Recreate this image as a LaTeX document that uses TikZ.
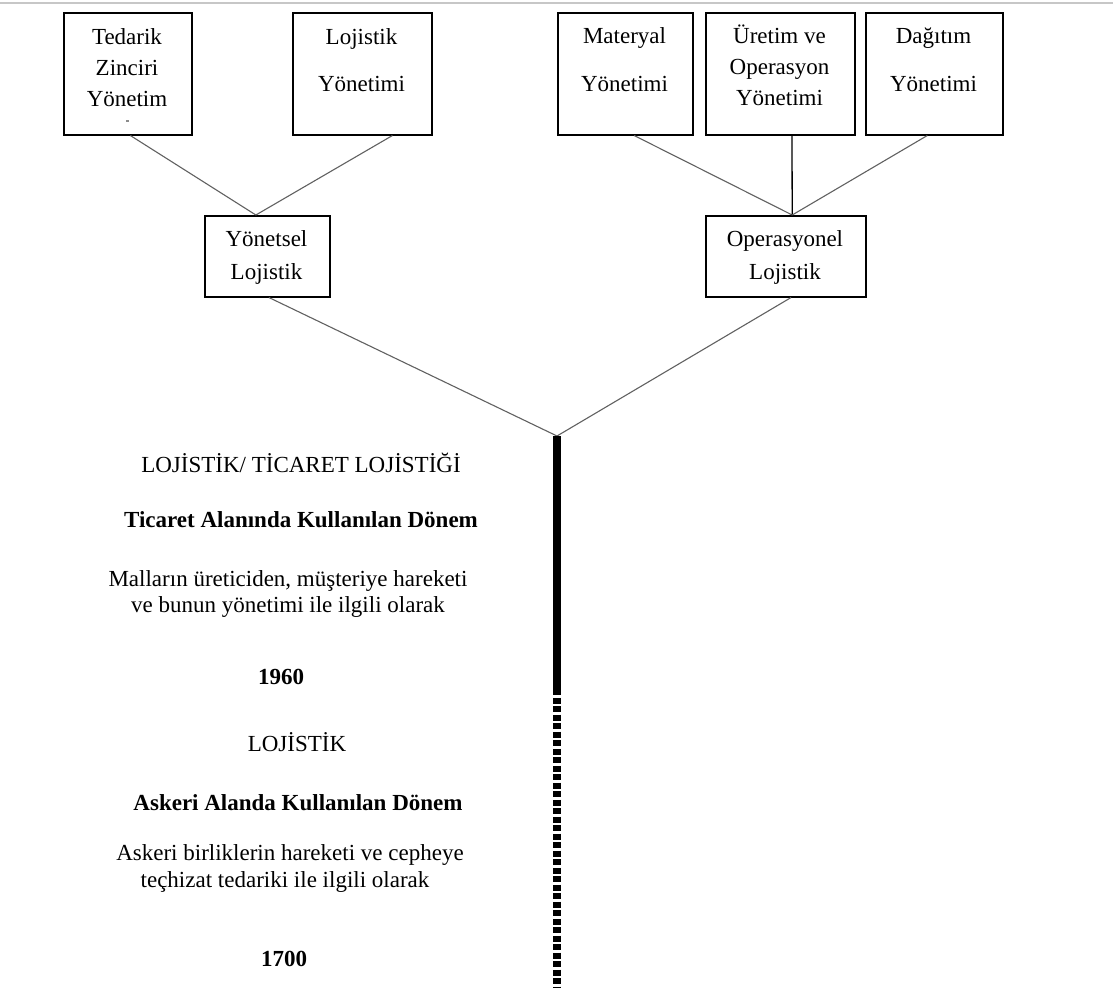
\documentclass[tikz,border=0pt]{standalone}
\usepackage{fontspec}
\setmainfont{Liberation Serif}
\usetikzlibrary{calc}
\begin{document}
\begin{tikzpicture}[x=1pt,y=-1pt,
  box/.style={draw=black, line width=1.5pt, anchor=north west, inner sep=0pt},
  txt/.style={anchor=base, inner sep=0pt, font=\fontsize{23}{27}\selectfont},
  btxt/.style={txt, font=\fontsize{23}{27}\selectfont\bfseries},
  link/.style={draw=black!62, line width=1.1pt},
  vlink/.style={draw=black, line width=1.3pt},
  era/.style={draw=black, line width=8pt, line cap=butt},
  olderas/.style={era, dash pattern=on 6pt off 2.5pt}]
\useasboundingbox (0,0) rectangle (1113,993);
\fill[white] (0,0) rectangle (1113,993);
\draw[black!22, line width=2pt] (0,3) -- (1113,3);

% top row boxes
\node[box, minimum width=128pt, minimum height=122pt] (tz) at (63,12) {};
\node[box, minimum width=139pt, minimum height=122pt] (ly) at (292,12) {};
\node[box, minimum width=135pt, minimum height=122pt] (my) at (557,12) {};
\node[box, minimum width=149pt, minimum height=122pt] (uo) at (705,12) {};
\node[box, minimum width=137pt, minimum height=122pt] (dy) at (865,12) {};
% second row boxes
\node[box, minimum width=125pt, minimum height=81pt] (ys) at (204,215) {};
\node[box, minimum width=160pt, minimum height=81pt] (op) at (705,215) {};

% box texts
\node[txt] (tz1) at (127,44) {Tedarik};
\node[txt] (tz2) at (127,75) {Zinciri};
\node[txt] (tz3) at (127,106) {Yönetim};
\fill[black!45] (126,120) rectangle (128.5,121.5);
\node[txt] (ly1) at (361.5,44) {Lojistik};
\node[txt] (ly2) at (361.5,91) {Yönetimi};
\node[txt] (my1) at (624.5,43) {Materyal};
\node[txt] (my2) at (624.5,91) {Yönetimi};
\node[txt] (uo1) at (779.5,43) {Üretim ve};
\node[txt] (uo2) at (779.5,74) {Operasyon};
\node[txt] (uo3) at (779.5,105) {Yönetimi};
\node[txt] (dy1) at (933.5,43) {Dağıtım};
\node[txt] (dy2) at (933.5,91) {Yönetimi};
\node[txt] (ys1) at (266.5,246) {Yönetsel};
\node[txt] (ys2) at (266.5,279) {Lojistik};
\node[txt] (op1) at (785,246) {Operasyonel};
\node[txt] (op2) at (785,279) {Lojistik};

% connectors
\coordinate (ysin) at ($(ys.north west)!0.41!(ys.north east)$);
\coordinate (opin) at ($(op.north west)!0.54!(op.north east)$);
\draw[link] ($(tz.south west)!0.52!(tz.south east)$) -- (ysin);
\draw[link] ($(ly.south west)!0.715!(ly.south east)$) -- (ysin);
\draw[link] ($(my.south west)!0.565!(my.south east)$) -- (opin);
\draw[vlink] ($(uo.south west)!0.578!(uo.south east)$) -- (opin);
\draw[link] ($(dy.south west)!0.45!(dy.south east)$) -- (opin);

\coordinate (root) at (557,436);
\coordinate (split) at (557,689);
\coordinate (start) at (557,988);
\draw[link] ($(ys.south west)!0.513!(ys.south east)$) -- (root);
\draw[link] ($(op.south west)!0.533!(op.south east)$) -- (root);
\draw[era] (root) -- (split);
\draw[olderas] (split) -- (start);

% time line texts
\node[txt] (t1) at (301,472) {LOJİSTİK/ TİCARET LOJİSTİĞİ};
\node[btxt] (t2) at (301,527) {Ticaret Alanında Kullanılan Dönem};
\node[txt] (t3) at (288,586) {Malların üreticiden, müşteriye hareketi};
\node[txt] (t4) at (288,612) {ve bunun yönetimi ile ilgili olarak};
\node[btxt] (t5) at (281,684) {1960};
\node[txt] (t6) at (297,751) {LOJİSTİK};
\node[btxt] (t7) at (298,810) {Askeri Alanda Kullanılan Dönem};
\node[txt] (t8) at (290,860) {Askeri birliklerin hareketi ve cepheye};
\node[txt] (t9) at (285,887) {teçhizat tedariki ile ilgili olarak};
\node[btxt] (t10) at (284,966) {1700};
\end{tikzpicture}
\end{document}
